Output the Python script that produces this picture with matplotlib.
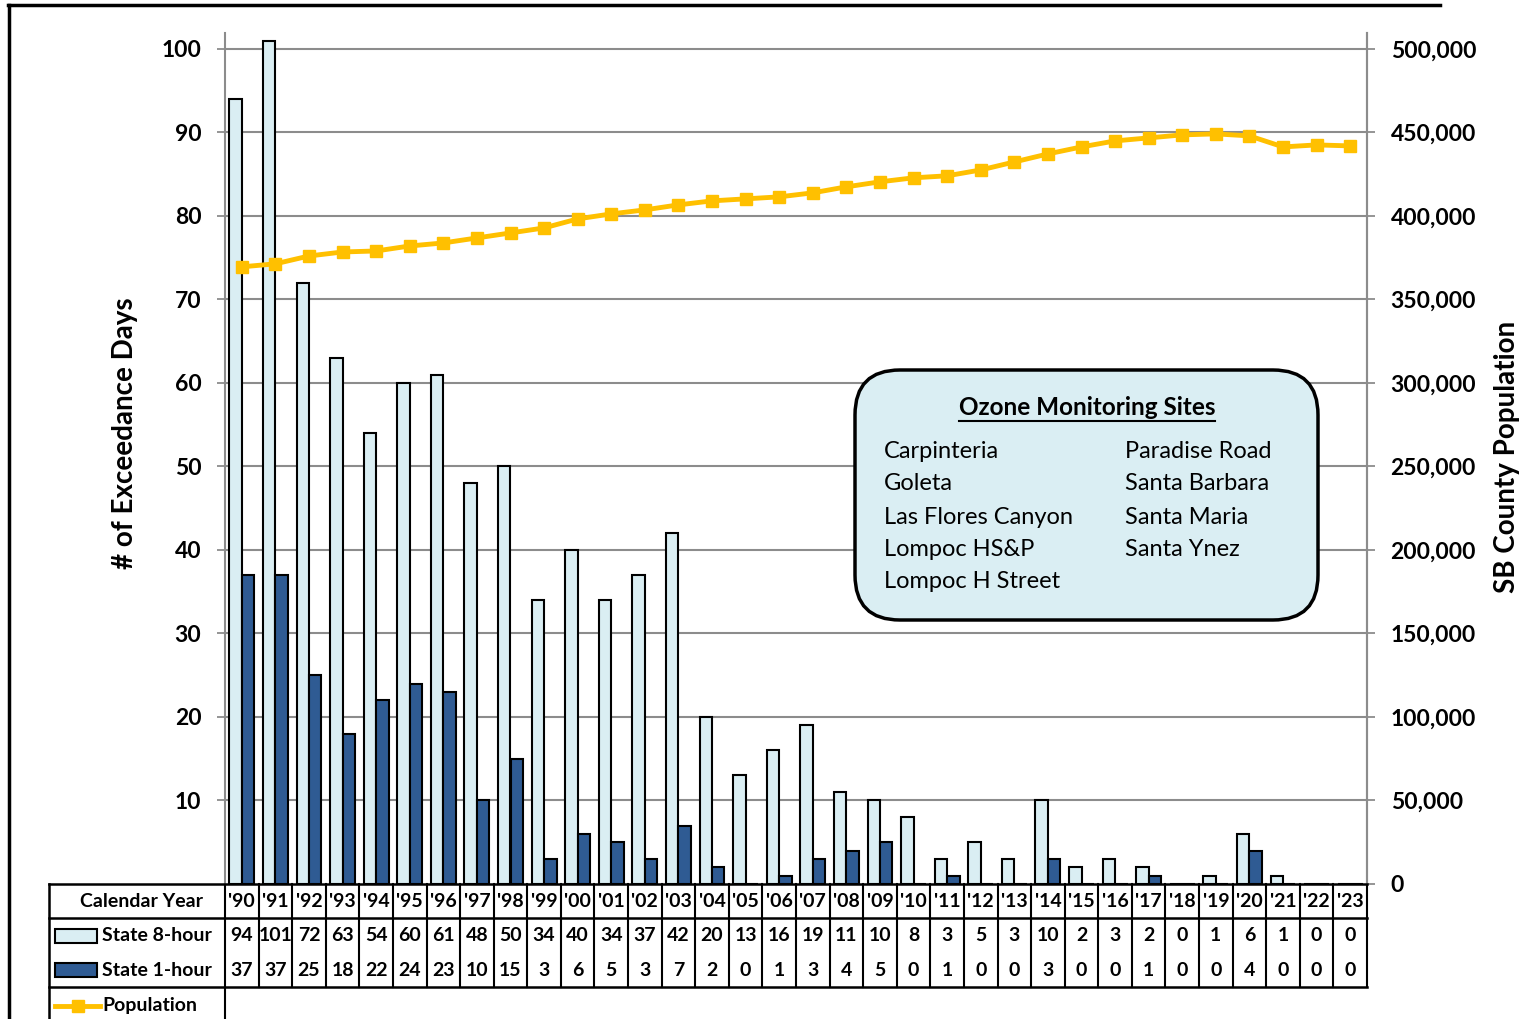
import numpy as np
import matplotlib.pyplot as plt
import matplotlib.transforms as mtransforms
from matplotlib.patches import FancyBboxPatch, Rectangle
from matplotlib.lines import Line2D
from matplotlib.ticker import FuncFormatter

plt.rcParams['font.family'] = ['Lato', 'DejaVu Sans']

# data
years = ["'90", "'91", "'92", "'93", "'94", "'95", "'96", "'97", "'98", "'99",
         "'00", "'01", "'02", "'03", "'04", "'05", "'06", "'07", "'08", "'09",
         "'10", "'11", "'12", "'13", "'14", "'15", "'16", "'17", "'18", "'19",
         "'20", "'21", "'22", "'23"]
eight_hour = [94, 101, 72, 63, 54, 60, 61, 48, 50, 34, 40, 34, 37, 42, 20, 13, 16,
              19, 11, 10, 8, 3, 5, 3, 10, 2, 3, 2, 0, 1, 6, 1, 0, 0]
one_hour = [37, 37, 25, 18, 22, 24, 23, 10, 15, 3, 6, 5, 3, 7, 2, 0, 1,
            3, 4, 5, 0, 1, 0, 0, 3, 0, 0, 1, 0, 0, 4, 0, 0, 0]
population = [369500, 371300, 376000, 378400, 379000, 382000, 383800, 386800,
              389800, 392800, 398200, 401200, 403600, 406600, 409000, 410200,
              411400, 413800, 417400, 420400, 422800, 424000, 427500, 432300,
              437100, 441300, 444900, 446700, 448500, 449100, 447900, 441300,
              442500, 441900]
sites_left = ['Carpinteria', 'Goleta', 'Las Flores Canyon', 'Lompoc HS&P', 'Lompoc H Street']
sites_right = ['Paradise Road', 'Santa Barbara', 'Santa Maria', 'Santa Ynez']

LIGHT = '#DAEEF3'
DARK = '#2F5B93'
GOLD = '#FFC000'
GRID = '#8c8c8c'
W, H = 1526, 1019

fig = plt.figure(figsize=(W / 100, H / 100), dpi=100)
ax = fig.add_axes([225 / W, 1 - 884 / H, (1367 - 225) / W, (884 - 33) / H])

x = np.arange(len(years))
bw = 0.37
ax.bar(x - bw, eight_hour, bw, align='edge', color=LIGHT, edgecolor='black', linewidth=1.5, zorder=3)
ax.bar(x, one_hour, bw, align='edge', color=DARK, edgecolor='black', linewidth=1.5, zorder=3)
ax.set_xlim(-0.5, len(years) - 0.5)
ax.set_ylim(0, 101.9)
ax.set_xticks([])
ax.set_yticks(range(10, 101, 10))
ax.grid(axis='y', color=GRID, linewidth=1.5)
ax.set_axisbelow(True)
ax.tick_params(axis='y', length=6, width=1.3, color=GRID, pad=11, labelsize=16.5)
plt.setp(ax.get_yticklabels(), fontweight='bold')
for s in ['top', 'bottom']:
    ax.spines[s].set_visible(False)
for s in ['left', 'right']:
    ax.spines[s].set_color(GRID)
    ax.spines[s].set_linewidth(1.5)

# population on the right axis
ax2 = ax.twinx()
ax2.plot(x, population, color=GOLD, linewidth=3.5, marker='s', markersize=9, zorder=4)
ax2.set_ylim(0, 101.9 * 5000)
ax2.set_yticks(range(0, 500001, 50000))
ax2.yaxis.set_major_formatter(FuncFormatter(lambda v, p: f'{int(v):,}'))
ax2.tick_params(axis='y', length=6, width=1.3, color=GRID, pad=11, labelsize=16.5)
plt.setp(ax2.get_yticklabels(), fontweight='bold')
for s in ['top', 'bottom', 'left']:
    ax2.spines[s].set_visible(False)
ax2.spines['right'].set_color(GRID)
ax2.spines['right'].set_linewidth(1.5)

# data table under the chart
tr = ax.get_xaxis_transform()
lab_tr = mtransforms.blended_transform_factory(fig.transFigure, ax.transAxes)
y_year, y_sep, y_8, y_1, y_bot, y_pop = -0.020, -0.040, -0.0611, -0.1011, -0.121, -0.143
fs_tab = 14
for i in range(len(years)):
    ax.text(i, y_year, years[i], transform=tr, ha='center', va='center',
            fontsize=fs_tab, fontweight='bold', clip_on=False)
    ax.text(i, y_8, str(eight_hour[i]), transform=tr, ha='center', va='center',
            fontsize=fs_tab, fontweight='bold', clip_on=False)
    ax.text(i, y_1, str(one_hour[i]), transform=tr, ha='center', va='center',
            fontsize=fs_tab, fontweight='bold', clip_on=False)
for i in range(len(years) + 1):
    y_end = -0.2 if i == 0 else y_bot
    ax.plot([i - 0.5, i - 0.5], [0, y_end], transform=tr, color='black', lw=1.5, clip_on=False)

xl, xr = 49 / W, 1367 / W
for yy in [0, y_sep, y_bot]:
    fig.add_artist(Line2D([xl, xr], [yy, yy], transform=lab_tr, color='black', lw=1.8))
fig.add_artist(Line2D([xl, xl], [0, -0.2], transform=lab_tr, color='black', lw=1.8))

t = fig.text(142 / W, 0, 'Calendar Year', ha='center', va='center',
             fontsize=fs_tab, fontweight='bold')
t.set_transform(lab_tr)
t.set_y(y_year)
for yy, col, name in [(y_8, LIGHT, 'State 8-hour'), (y_1, DARK, 'State 1-hour')]:
    fig.add_artist(Rectangle((55 / W, yy - 0.0082), 42 / W, 0.0164, transform=lab_tr,
                             facecolor=col, edgecolor='black', lw=1.5))
    t = fig.text(102 / W, 0, name, ha='left', va='center', fontsize=fs_tab, fontweight='bold')
    t.set_transform(lab_tr)
    t.set_y(yy)
fig.add_artist(Line2D([55 / W, 100 / W], [y_pop, y_pop], transform=lab_tr, color=GOLD, lw=3.5))
fig.add_artist(Line2D([77.5 / W], [y_pop], transform=lab_tr, color=GOLD, marker='s', markersize=9))
t = fig.text(102 / W, 0, 'Population', ha='left', va='center', fontsize=fs_tab, fontweight='bold')
t.set_transform(lab_tr)
t.set_y(y_pop)

# axis titles
fig.text(125 / W, 1 - 433 / H, '# of Exceedance Days', rotation=90, ha='center', va='center',
         fontsize=20, fontweight='bold')
fig.text(1507 / W, 1 - 457 / H, 'SB County Population', rotation=90, ha='center', va='center',
         fontsize=20, fontweight='bold')

# monitoring sites box
box = FancyBboxPatch((8.55, (H - 620) / 100), 4.63, 2.50, boxstyle='round,pad=0,rounding_size=0.45',
                     transform=fig.dpi_scale_trans, facecolor=LIGHT, edgecolor='black', lw=2.5)
fig.add_artist(box)
title = fig.text(1087 / W, 1 - 407 / H, 'Ozone Monitoring Sites', ha='center', va='center',
                 fontsize=17.5, fontweight='bold')
rend = fig.canvas.get_renderer()
bb = title.get_window_extent(rend).transformed(fig.transFigure.inverted())
fig.add_artist(Line2D([bb.x0, bb.x1], [bb.y0 - 0.002, bb.y0 - 0.002], transform=fig.transFigure,
                      color='black', lw=1.5))
rows = [451, 484, 517, 549, 582]
for name, yy in zip(sites_left, rows):
    fig.text(884 / W, 1 - yy / H, name, ha='left', va='center', fontsize=17)
for name, yy in zip(sites_right, rows):
    fig.text(1125 / W, 1 - yy / H, name, ha='left', va='center', fontsize=17)

# outer frame
fig.add_artist(Line2D([8 / W, 1440 / W], [1 - 5 / H, 1 - 5 / H], transform=fig.transFigure, color='black', lw=2.5))
fig.add_artist(Line2D([9 / W, 9 / W], [0, 1 - 5 / H], transform=fig.transFigure, color='black', lw=2.5))

fig.savefig('out.png', dpi=100)
